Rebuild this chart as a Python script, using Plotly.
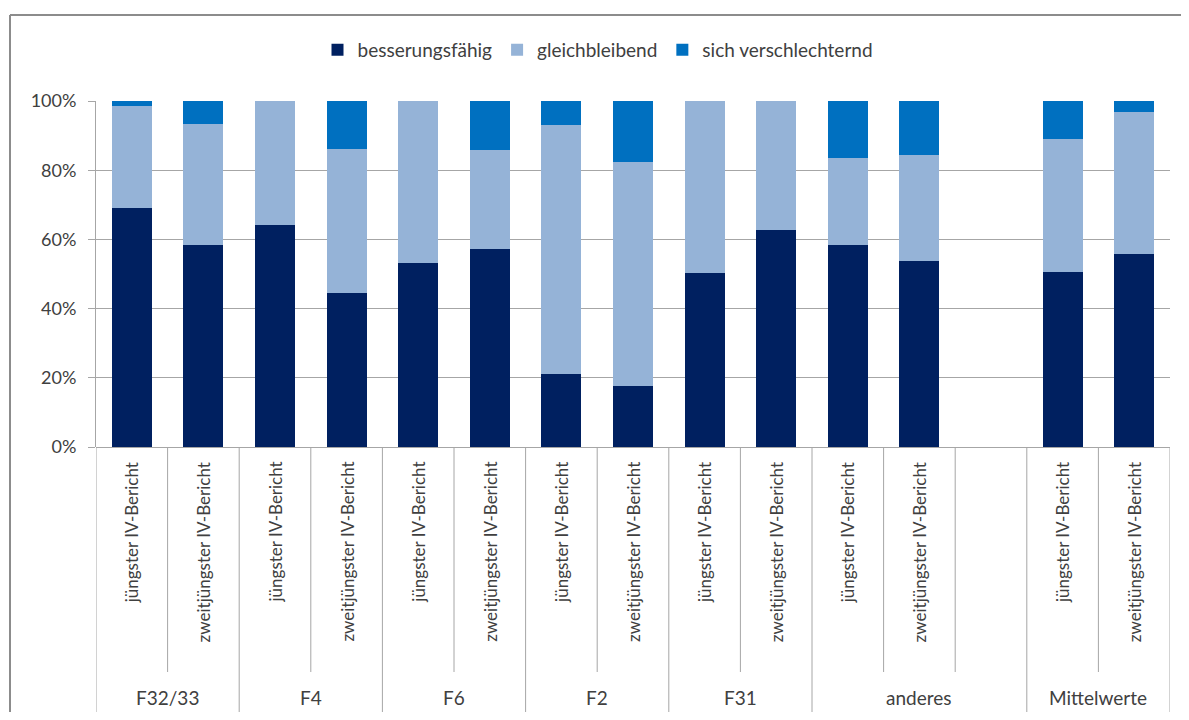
import plotly.graph_objects as go

# slots on the category axis (one empty slot inside "anderes", as in the source sheet)
groups = ["F32/33", "F4", "F6", "F2", "F31", "anderes", "Mittelwerte"]
group_sizes = [2, 2, 2, 2, 2, 3, 2]
reports = ["jüngster IV-Bericht", "zweitjüngster IV-Bericht",
           "jüngster IV-Bericht", "zweitjüngster IV-Bericht",
           "jüngster IV-Bericht", "zweitjüngster IV-Bericht",
           "jüngster IV-Bericht", "zweitjüngster IV-Bericht",
           "jüngster IV-Bericht", "zweitjüngster IV-Bericht",
           "jüngster IV-Bericht", "zweitjüngster IV-Bericht", "",
           "jüngster IV-Bericht", "zweitjüngster IV-Bericht"]

besserungsfaehig = [0.690, 0.583, 0.643, 0.446, 0.532, 0.572, 0.212, 0.175,
                    0.502, 0.627, 0.583, 0.539, None, 0.505, 0.557]
gleichbleibend = [0.296, 0.351, 0.357, 0.414, 0.468, 0.285, 0.719, 0.649,
                  0.498, 0.373, 0.251, 0.306, None, 0.385, 0.410]
verschlechternd = [0.014, 0.066, 0.0, 0.140, 0.0, 0.143, 0.069, 0.176,
                   0.0, 0.0, 0.166, 0.155, None, 0.110, 0.033]

FONT = "Lato"
TXT = "#404040"
GRID = "#a6a6a6"

# the page adds an 8px body margin, so positions are page pixels minus 8;
# figure kept small enough that the page needs no scrollbars
OFF = 8
W, H = 1189 - 2 * OFF, 720 - 2 * OFF
L, T = 96 - OFF, 101 - OFF
R = W - (1170 - OFF)
B = H - (447 - OFF)
pw, ph = W - L - R, H - T - B


def py(pix):
    # page pixel row -> paper y
    return (H - B - (pix - OFF)) / ph


def px(pix):
    return (pix - OFF - L) / pw


xs = list(range(len(reports)))

fig = go.Figure()
series = [("besserungsfähig", besserungsfaehig, "#002060"),
          ("gleichbleibend", gleichbleibend, "#95b3d7"),
          ("sich verschlechternd", verschlechternd, "#0070c0")]
for name, vals, col in series:
    fig.add_trace(go.Bar(x=xs, y=vals, name=name,
                         marker=dict(color=col, line=dict(width=0))))

# category dividers: short ones between reports, long ones between groups
group_edges = [0]
for n in group_sizes:
    group_edges.append(group_edges[-1] + n)
for k in range(len(reports) + 1):
    long_line = k in group_edges
    fig.add_shape(type="line", xref="x", yref="paper",
                  x0=k - 0.5, x1=k - 0.5, y0=0, y1=py(712 if long_line else 672),
                  line=dict(color=GRID, width=1))

# rotated report labels
for i, lab in enumerate(reports):
    if lab:
        fig.add_annotation(x=i, y=py(460), xref="x", yref="paper",
                           text=lab, textangle=-90, showarrow=False,
                           xanchor="center", yanchor="top",
                           font=dict(family=FONT, size=17, color=TXT))

# group labels
for g, a, b in zip(groups, group_edges[:-1], group_edges[1:]):
    fig.add_annotation(x=(a + b - 1) / 2, y=py(697), xref="x", yref="paper",
                       text=g, showarrow=False, xanchor="center", yanchor="middle",
                       font=dict(family=FONT, size=19, color=TXT))

# outer chart border (only top and left edges are inside the picture)
fig.add_shape(type="line", xref="paper", yref="paper",
              x0=px(10), x1=px(1189), y0=py(15), y1=py(15),
              line=dict(color="#8c8c8c", width=2), layer="below")
fig.add_shape(type="line", xref="paper", yref="paper",
              x0=px(10), x1=px(10), y0=py(15), y1=py(720),
              line=dict(color="#8c8c8c", width=2), layer="below")

fig.update_layout(
    width=W, height=H,
    margin=dict(l=L, r=R, t=T, b=B),
    barmode="stack", bargap=0.44,
    paper_bgcolor="white", plot_bgcolor="white",
    font=dict(family=FONT, size=18, color=TXT),
    legend=dict(orientation="h", x=px(598), xanchor="center",
                y=py(50), yanchor="middle",
                font=dict(family=FONT, size=19, color=TXT),
                traceorder="normal"),
)
fig.update_xaxes(range=[-0.5, len(reports) - 0.5], showticklabels=False,
                 showgrid=False, zeroline=False, showline=False, ticks="")
fig.update_yaxes(range=[0, 1], tickvals=[0, 0.2, 0.4, 0.6, 0.8, 1.0],
                 tickformat=".0%", showgrid=True, gridcolor=GRID, gridwidth=1,
                 zeroline=True, zerolinecolor=GRID, zerolinewidth=1,
                 showline=True, linecolor=GRID, linewidth=1,
                 ticks="outside", ticklen=7, tickcolor=GRID, ticklabelstandoff=8,
                 tickfont=dict(family=FONT, size=18, color=TXT))

fig.write_html("out.html")
